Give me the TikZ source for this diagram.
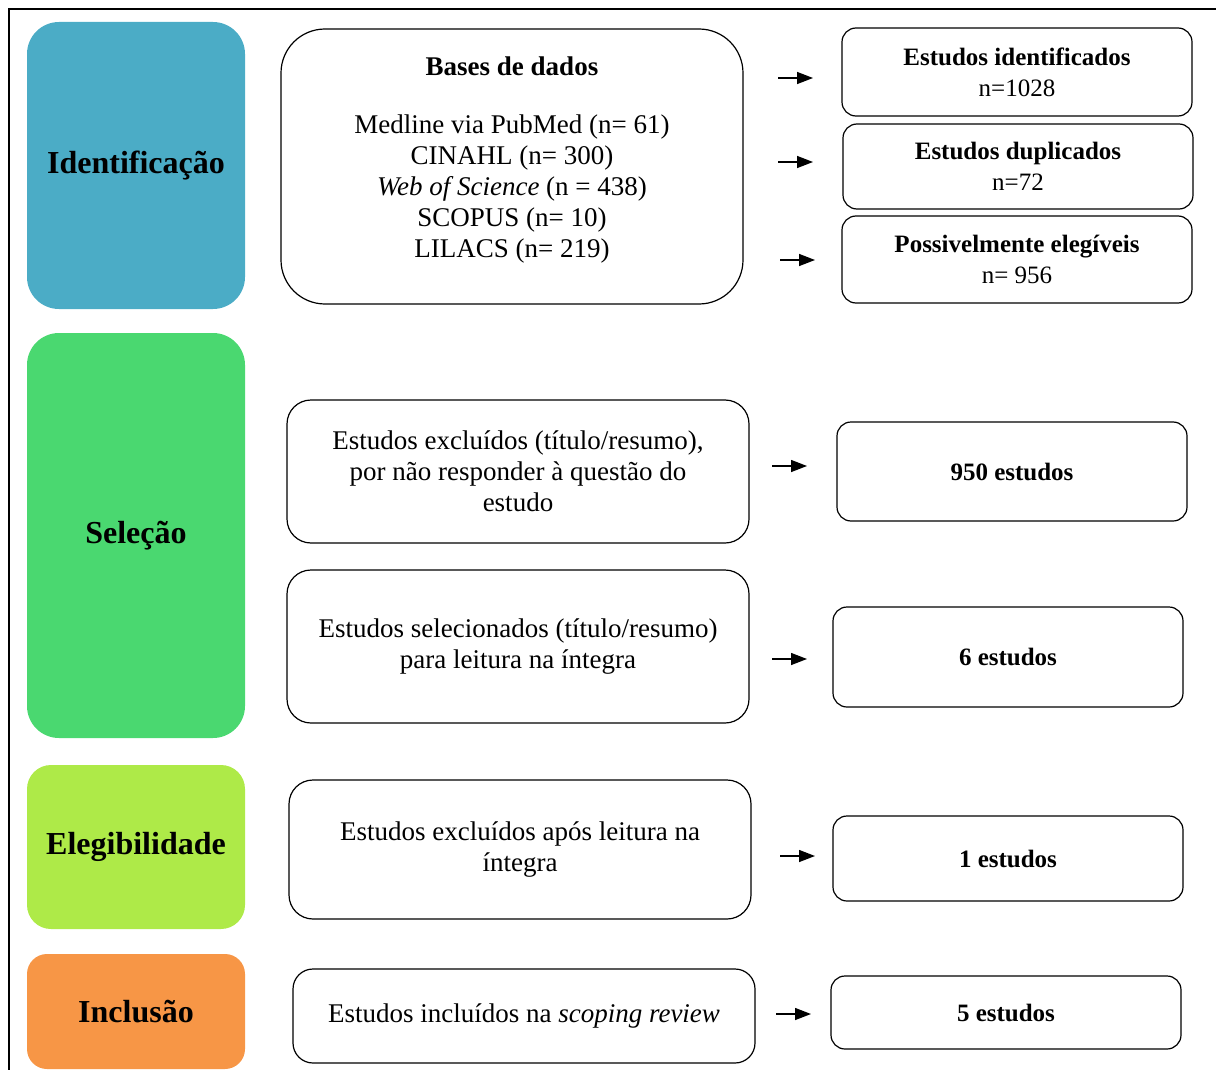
\documentclass[tikz,border=0pt]{standalone}
\usepackage{fontspec}
\setmainfont{Liberation Serif}
\usepackage{tikz}
\usetikzlibrary{arrows.meta}
\definecolor{corIdent}{RGB}{75,172,198}
\definecolor{corSelec}{RGB}{74,216,112}
\definecolor{corEleg}{RGB}{174,234,72}
\definecolor{corInclu}{RGB}{247,150,70}
\begin{document}
\begin{tikzpicture}[x=0.5pt, y=-0.5pt,
    fase/.style={rectangle, rounded corners=14pt, minimum width=109pt, font=\fontsize{16}{19}\selectfont\bfseries},
    caixa/.style={rectangle, draw, line width=0.6pt, rounded corners=12pt, minimum width=231pt, align=center, font=\fontsize{13.5}{15.5}\selectfont},
    res/.style={rectangle, draw, line width=0.6pt, rounded corners=7pt, minimum width=175pt, align=center, font=\fontsize{12.5}{15.5}\selectfont},
    seta/.style={-{Triangle[length=8pt,width=6pt]}, line width=0.7pt}]
        \useasboundingbox (0,0) rectangle (1216,1070);
        \draw[line width=1pt] (9,1070) -- (9,9) -- (1216,9);
        \node[fase, fill=corIdent, minimum height=143.5pt, rounded corners=16pt] (ident) at (136,165.5) {Identificação};
        \node[fase, fill=corSelec, minimum height=202.5pt, rounded corners=16pt] (selec) at (136,535.5) {Seleção};
        \node[fase, fill=corEleg, minimum height=82pt, rounded corners=12pt] (eleg) at (136,847) {Elegibilidade};
        \node[fase, fill=corInclu, minimum height=57.5pt, rounded corners=10pt] (inclu) at (136,1011.5) {Inclusão};
        \node[caixa, minimum height=137.5pt, rounded corners=22pt] (bases) at (512,166.5) {};
        \node[align=center, font=\fontsize{13.5}{15.5}\selectfont] (basesTxt) at (512,160.5) {\textbf{Bases de dados}\\[13.5pt] Medline via PubMed (n= 61)\\ CINAHL (n= 300)\\ \textit{Web of Science} (n = 438)\\ SCOPUS (n= 10)\\ LILACS (n= 219)};
        \node[caixa, minimum height=71.5pt] (excl) at (518,471.5) {Estudos excluídos (título/resumo),\\ por não responder à questão do\\ estudo};
        \node[caixa, minimum height=76.5pt] (selecionados) at (518,646.5) {Estudos selecionados (título/resumo)\\ para leitura na íntegra};
        \node[caixa, minimum height=69.5pt] (exclInt) at (520,849.5) {Estudos excluídos após leitura na\\ íntegra};
        \node[caixa, minimum height=47pt, rounded corners=10pt] (incluidos) at (524,1016) {Estudos incluídos na \textit{scoping review}};
        \node[res, minimum height=44pt] (ident2) at (1017,72) {\textbf{Estudos identificados}\\ n=1028};
        \node[res, minimum height=42.5pt] (dupl) at (1018,166.5) {\textbf{Estudos duplicados}\\ n=72};
        \node[res, minimum height=43.5pt] (eleg2) at (1017,259.5) {\textbf{Possivelmente elegíveis}\\ n= 956};
        \node[res, minimum height=49.5pt] (n950) at (1012,471.5) {\textbf{950 estudos}};
        \node[res, minimum height=50pt] (n6) at (1008,657) {\textbf{6 estudos}};
        \node[res, minimum height=42.5pt] (n1) at (1008,858.5) {\textbf{1 estudos}};
        \node[res, minimum height=36.5pt] (n5) at (1006,1012.5) {\textbf{5 estudos}};
        \coordinate (s1) at (778,78);   \coordinate (e1) at (813,78);
        \coordinate (s2) at (778,162);  \coordinate (e2) at (813,162);
        \coordinate (s3) at (780,260);  \coordinate (e3) at (815,260);
        \coordinate (s4) at (772,466);  \coordinate (e4) at (807,466);
        \coordinate (s5) at (772,659);  \coordinate (e5) at (807,659);
        \coordinate (s6) at (780,856);  \coordinate (e6) at (815,856);
        \coordinate (s7) at (776,1014); \coordinate (e7) at (811,1014);
        \foreach \i in {1,...,7}
            \draw[seta] (s\i) -- (e\i);
    \end{tikzpicture}
\end{document}
